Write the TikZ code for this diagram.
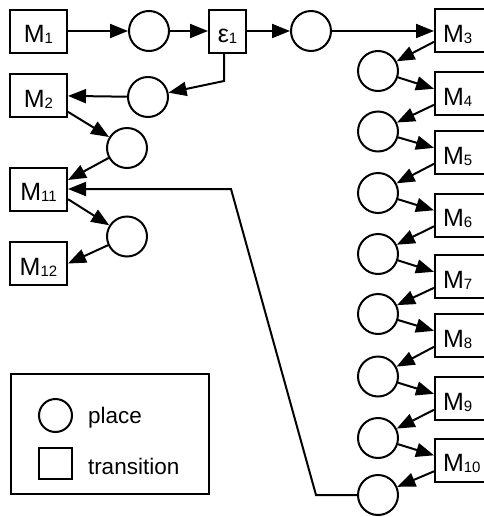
\documentclass[tikz,border=0pt]{standalone}
\usepackage{fontspec}
\setmainfont{Liberation Sans}
\usetikzlibrary{arrows.meta}
\newcommand{\sbs}[1]{\raisebox{-1pt}{\fontsize{15}{15}\selectfont #1}}
\begin{document}
\begin{tikzpicture}[x=1pt,y=-1pt, line width=2pt,
  tbox/.style={draw, rectangle, minimum width=57pt, minimum height=43pt, inner sep=0pt,
    text height=23pt, text depth=0pt, font=\fontsize{25}{29}\selectfont},
  rbox/.style={tbox, inner xsep=8pt, text width=41pt, align=left},
  place/.style={draw, circle, minimum size=40pt, inner sep=0pt},
  arc/.style={-{Triangle[length=18pt,width=14pt]}},
  legtext/.style={anchor=base west, inner sep=0pt, font=\fontsize{22.5}{26}\selectfont},
]
\useasboundingbox (0,0) rectangle (483,517);

% top row
\node[tbox] (M1) at (38.5,31) {M\sbs{1}};
\node[place] (P1) at (149,31) {};
\node[tbox, minimum width=37pt] (E1) at (227.5,31) {ε\sbs{1}};
\node[place] (P2) at (311,31) {};

% left column
\node[tbox] (M2) at (38.5,95.5) {M\sbs{2}};
\node[place] (P3) at (148,97) {};
\node[place] (P4) at (127,148) {};
\node[tbox] (M11) at (38.5,189) {M\sbs{11}};
\node[place] (P5) at (127,236.5) {};
\node[tbox] (M12) at (38.5,263.5) {M\sbs{12}};

% right column
\foreach \k/\y in {3/30.5,4/93.5,5/152.5,6/215,7/276.5,8/335.5,9/398.5,10/460}
  \node[rbox] (M\k) at (463.5,\y) {M\sbs{\k}};
\foreach \k/\y in {3/71,4/131.5,5/193,6/254,7/314,8/376.5,9/438,10/495}
  \node[place] (Q\k) at (378,\y) {};

% connectors
\draw[arc] (M1) -- (P1);
\draw[arc] (P1) -- (E1);
\draw[arc] (E1) -- (P2);
\draw[arc] (P2) -- (M3.west |- P2);
\coordinate (C1) at (224,81);
\draw[arc] (E1.south -| C1) -- (C1) -- (P3);
\draw[arc] (P3) -- (M2);
\draw[arc] (M2.-29) -- (P4);
\draw[arc] (P4) -- (M11.17);
\draw[arc] (M11.-19) -- (P5);
\draw[arc] (P5) -- (M12.east);

\foreach \k in {3,...,10}
  \draw[arc] (M\k.201) -- (Q\k);
\foreach \k [evaluate=\k as \n using int(\k+1)] in {3,...,9}
  \draw[arc] (Q\k) -- (M\n.171);

\coordinate (B1) at (316,495);
\coordinate (B2) at (231,189);
\draw[arc] (Q10.west) -- (B1) -- (B2) -- (M11.east);

% legend
\node[draw, rectangle, minimum width=198pt, minimum height=120pt, inner sep=0pt] (L) at (110,434) {};
\node[draw, circle, minimum size=33pt, inner sep=0pt] (LP) at (55.5,415.5) {};
\node[draw, rectangle, minimum width=33pt, minimum height=31pt, inner sep=0pt] (LT) at (55.5,463.5) {};
\node[legtext] (LPt) at (87,423.5) {place};
\node[legtext] (LTt) at (87,474) {transition};
\end{tikzpicture}
\end{document}
